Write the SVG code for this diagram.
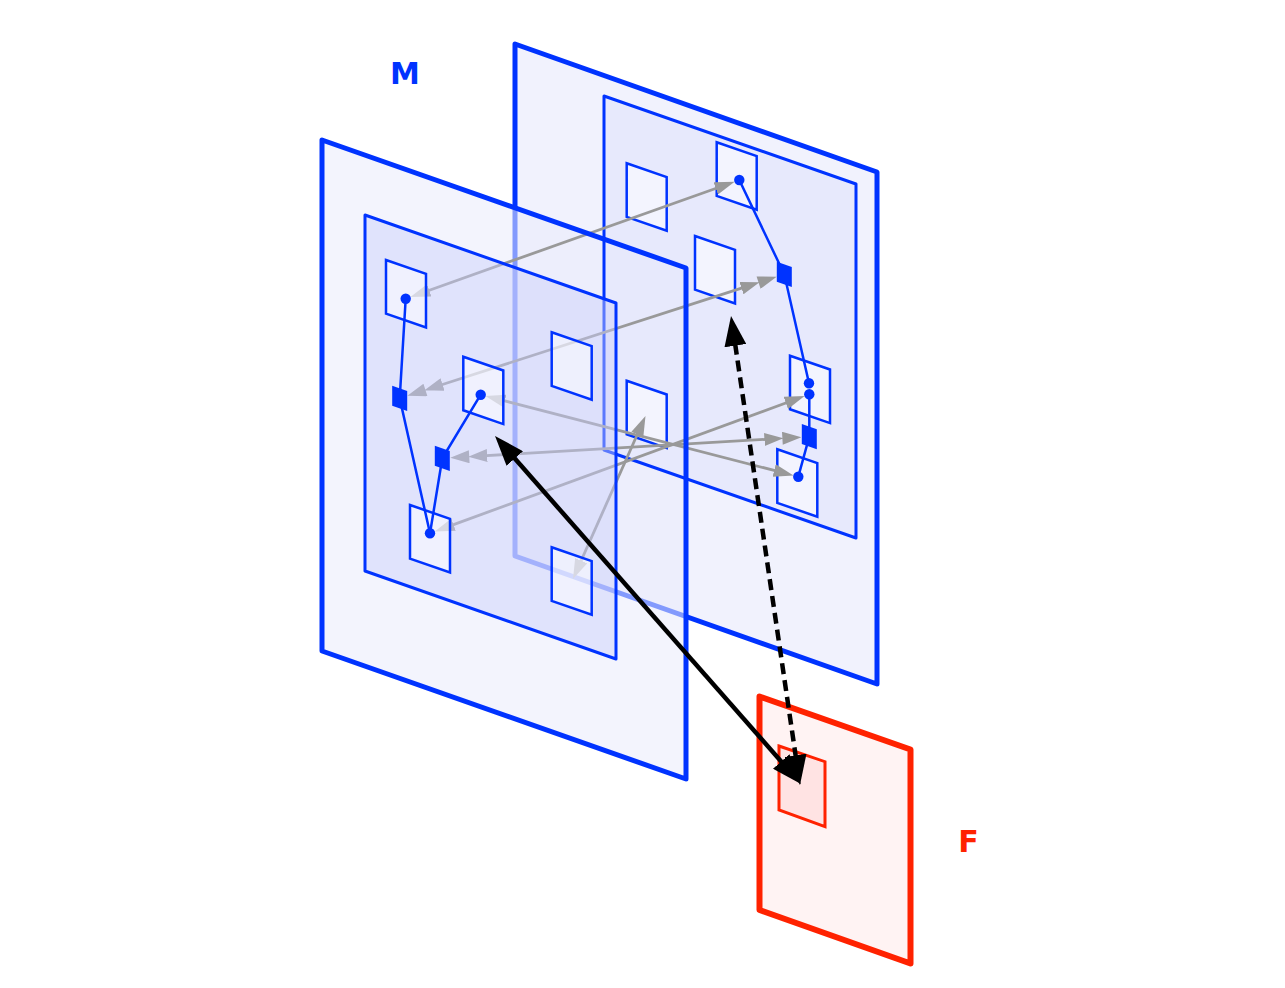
<svg xmlns="http://www.w3.org/2000/svg" width="1285" height="988" viewBox="0 0 1285 988">
<style>
.stroke5{fill:none;stroke:#0033ff;stroke-width:5;stroke-linejoin:round}
.inner{stroke:#0033ff;stroke-width:3;stroke-linejoin:round}
.sp{fill:#ffffff;fill-opacity:0.5;stroke:#0033ff;stroke-width:2.5}
.link{fill:none;stroke:#0033ff;stroke-width:2.5}
.node{fill:#0033ff}
.gray{fill:none;stroke:#999999;stroke-width:2.8}
.blk{fill:none;stroke:#000000;stroke-width:4.5}
.lbl{font-family:"DejaVu Sans","Liberation Sans",sans-serif;font-weight:bold;font-size:30px;text-anchor:middle}
</style>
<defs>
<path id="sp" d="M0,0 L40,13.8 L40,67.4 L0,53.6 Z"/>
<path id="sq" d="M-7.5,-12.6 L7.5,-7.4 L7.5,12.6 L-7.5,7.4 Z"/>
<marker id="g1" markerUnits="userSpaceOnUse" markerWidth="20" markerHeight="13" refX="5" refY="6.5" orient="auto-start-reverse" viewBox="0 0 20 13">
<path d="M0,0 L20,6.5 L0,13 Z" fill="#999999"/>
</marker>
<marker id="g2" markerUnits="userSpaceOnUse" markerWidth="37" markerHeight="13" refX="5" refY="6.5" orient="auto-start-reverse" viewBox="0 0 37 13">
<path d="M0,0 L19,6.5 L0,13 Z M18,0 L37,6.5 L18,13 Z" fill="#999999"/>
</marker>
<marker id="bk" markerUnits="userSpaceOnUse" markerWidth="30" markerHeight="22" refX="2" refY="11" orient="auto-start-reverse" viewBox="0 0 30 22">
<path d="M0,0 L30,11 L0,22 Z" fill="#000000"/>
</marker>
</defs>
<rect width="1285" height="988" fill="#ffffff"/>

<g id="M-back-outer">
<path class="stroke5" style="fill:#f1f2fd" d="M515,44 L877,172 L877,684 L515,556 Z"/>
</g>

<g id="M-front-outer-fill">
<path fill="rgb(233,235,252)" fill-opacity="0.56" d="M322,140 L686,268 L686,779 L322,651 Z"/>
</g>

<g id="M-back">
<path class="inner" fill="#e7e9fc" d="M604,96 L856,184 L856,538 L604,450 Z"/>
<use href="#sp" class="sp" x="626.7" y="163.3"/>
<use href="#sp" class="sp" x="716.7" y="142.3"/>
<use href="#sp" class="sp" x="695" y="236"/>
<use href="#sp" class="sp" x="790" y="355.7"/>
<use href="#sp" class="sp" x="777.3" y="449.3"/>
<use href="#sp" class="sp" x="626.7" y="380.7"/>
</g>

<g id="connectors-gray">
<line class="gray" x1="424.5" y1="292" x2="720.5" y2="186.7" marker-start="url(#g1)" marker-end="url(#g1)"/>
<line class="gray" x1="437.8" y1="386" x2="746.2" y2="286.6" marker-start="url(#g2)" marker-end="url(#g2)"/>
<line class="gray" x1="500" y1="399.7" x2="779" y2="471.7" marker-start="url(#g1)" marker-end="url(#g1)"/>
<line class="gray" x1="482.2" y1="455.9" x2="769.4" y2="439.1" marker-start="url(#g2)" marker-end="url(#g2)"/>
<line class="gray" x1="448.8" y1="526.4" x2="790.5" y2="401.2" marker-start="url(#g1)" marker-end="url(#g1)"/>
<line class="gray" x1="579.1" y1="565.3" x2="639.4" y2="429.7" marker-start="url(#g1)" marker-end="url(#g1)"/>
</g>

<g id="M-back-nodes">
<polyline class="link" points="739.3,180 784.3,274.3 809,383.3"/>
<polyline class="link" points="809.3,394.3 809.3,436.7 798.3,476.7"/>
<circle class="node" cx="739.3" cy="180" r="5.2"/>
<use href="#sq" class="node" x="784.3" y="274.3"/>
<circle class="node" cx="809" cy="383.3" r="5.2"/>
<circle class="node" cx="809.3" cy="394.3" r="5.2"/>
<use href="#sq" class="node" x="809.3" y="436.7"/>
<circle class="node" cx="798.3" cy="476.7" r="5.2"/>
</g>

<g id="M-front">
<path class="stroke5" d="M322,140 L686,268 L686,779 L322,651 Z"/>
<path class="inner" fill="rgb(201,207,250)" fill-opacity="0.45" d="M365,215 L616,303 L616,659 L365,571 Z"/>
<use href="#sp" class="sp" x="386" y="260"/>
<use href="#sp" class="sp" x="463.3" y="356.7"/>
<use href="#sp" class="sp" x="551.7" y="332.3"/>
<use href="#sp" class="sp" x="410" y="505"/>
<use href="#sp" class="sp" x="551.7" y="547.3"/>
</g>

<g id="M-front-nodes">
<polyline class="link" points="405.7,298.7 399.7,398.3 430,533.3"/>
<polyline class="link" points="480.7,394.7 442.3,458.3 430,533.3"/>
<circle class="node" cx="405.7" cy="298.7" r="5.2"/>
<use href="#sq" class="node" x="399.7" y="398.3"/>
<circle class="node" cx="480.7" cy="394.7" r="5.2"/>
<use href="#sq" class="node" x="442.3" y="458.3"/>
<circle class="node" cx="430" cy="533.3" r="5.2"/>
</g>

<g id="F">
<path fill="#fff3f3" stroke="#ff2200" stroke-width="6" stroke-linejoin="round" d="M759.5,696.5 L910.5,749.5 L910.5,963.5 L759.5,910 Z"/>
<path fill="#ffe3e3" stroke="#ff2200" stroke-width="3" d="M779,746 L825,761.7 L825,826.7 L779,810 Z"/>
</g>

<g id="connectors-black">
<line class="blk" x1="513.5" y1="457" x2="782.5" y2="763" marker-start="url(#bk)" marker-end="url(#bk)"/>
<line class="blk" x1="735.1" y1="343.7" x2="795.9" y2="757.3" stroke-dasharray="11 6" marker-start="url(#bk)" marker-end="url(#bk)"/>
</g>

<g id="labels">
<text class="lbl" x="405" y="84" fill="#0033ff">M</text>
<text class="lbl" x="968.5" y="852" fill="#ff2200">F</text>
</g>
</svg>
